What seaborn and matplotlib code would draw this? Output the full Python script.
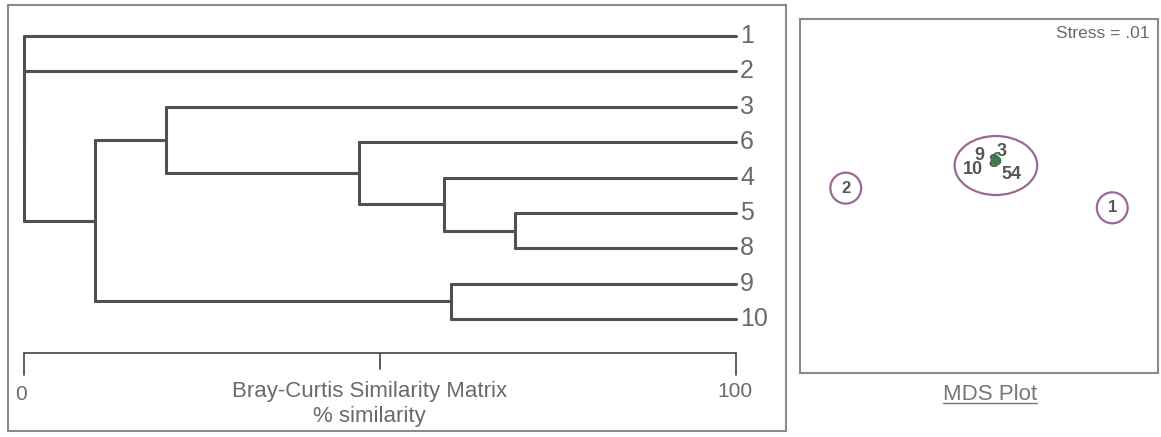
import numpy as np
import pandas as pd
import matplotlib
matplotlib.use('Agg')
import matplotlib.pyplot as plt
from matplotlib.patches import Ellipse
from matplotlib.lines import Line2D
import seaborn as sns

# 树状图数据 (Bray-Curtis 相似度 %)
leaf_order = ['1', '2', '3', '6', '4', '5', '8', '9', '10']
merge_left = ['5', '4', '6', '3', '9', 'B', '2', '1']
merge_right = ['8', 'F', 'E', 'D', '10', 'C', 'A', 'R2']
merge_sim = [69, 59, 47, 20, 60, 10, 0, 0]
merge_name = ['F', 'E', 'D', 'B', 'C', 'A', 'R2', 'R']
axis_ticks = [0, 50, 100]
axis_tick_labels = ['0', '', '100']

# MDS 坐标
mds_labels = ['1', '2', '3', '4', '5', '6', '8', '9', '10']
mds_x = [1.34, -1.34, 0.23, 0.37, 0.28, 0.17, 0.14, 0.0, -0.06]
mds_y = [-0.12, 0.08, 0.45, 0.22, 0.22, 0.36, 0.34, 0.41, 0.27]
circled = ['1', '2']
stress_text = 'Stress = .01'

W, H = 1161, 437
LINE = '#505050'
TEXT = '#6a6a6a'
FRAME = '#8a8a8a'
PURPLE = '#9a6a96'
GREEN = '#3f7a4f'

sns.set_style('white')
plt.rcParams['font.family'] = ['Liberation Sans', 'DejaVu Sans']

fig = plt.figure(figsize=(W / 100, H / 100), dpi=100)


def px_axes(x0, y0, x1, y1):
    return fig.add_axes([x0 / W, 1 - y1 / H, (x1 - x0) / W, (y1 - y0) / H])


# ---------- 左侧：树状图 ----------
ax = px_axes(8, 5, 786, 431)
R = 100 * 778 / 712
xmin = -16 * R / 778
ax.set_xlim(xmin, xmin + R)
step = 35.375
ax.set_ylim((431 - 36) / step, (5 - 36) / step)

pos = {name: (100.0, float(i)) for i, name in enumerate(leaf_order)}
rows = []
seg = 0
for a, b, s, n in zip(merge_left, merge_right, merge_sim, merge_name):
    xa, ya = pos[a]
    xb, yb = pos[b]
    for (x0, y0, x1, y1) in [(xa, ya, s, ya), (xb, yb, s, yb), (s, ya, s, yb)]:
        rows.append({'x': x0, 'y': y0, 'seg': seg})
        rows.append({'x': x1, 'y': y1, 'seg': seg})
        seg += 1
    pos[n] = (float(s), (ya + yb) / 2)
seg_df = pd.DataFrame(rows)
sns.lineplot(data=seg_df, x='x', y='y', units='seg', estimator=None, sort=False,
             color=LINE, lw=2.2, ax=ax, legend=False)
ax.set_xlabel('')
ax.set_ylabel('')

for i, name in enumerate(leaf_order):
    ax.text(100.55, i, name, ha='left', va='center', fontsize=18, color=TEXT)

# 相似度坐标轴
y_axis = (353 - 36) / step
ax.plot([0, 100], [y_axis, y_axis], color=LINE, lw=1.3)
for t, lab in zip(axis_ticks, axis_tick_labels):
    tick_len = 0.62 if lab else 0.45
    ax.plot([t, t], [y_axis, y_axis + tick_len], color=LINE, lw=1.3)
ax.text(-0.4, (395 - 36) / step, '0', ha='center', va='center', fontsize=15, color=TEXT)
ax.text(99.8, (391 - 36) / step, '100', ha='center', va='center', fontsize=15, color=TEXT)
ax.text(48.5, (391 - 36) / step, 'Bray-Curtis Similarity Matrix', ha='center',
        va='center', fontsize=16, color=TEXT)
ax.text(48.5, (416 - 36) / step, '% similarity', ha='center', va='center',
        fontsize=16, color=TEXT)

ax.set_xticks([])
ax.set_yticks([])
for sp in ax.spines.values():
    sp.set_color(FRAME)
    sp.set_linewidth(1.5)

# ---------- 右侧：MDS 图 ----------
ax2 = px_axes(800, 19, 1158, 373)
ax2.set_xlim(-1.8, 1.8)
ax2.set_ylim(-1.8, 1.8)

mds_df = pd.DataFrame({'x': mds_x, 'y': mds_y, 'label': mds_labels})
for _, r in mds_df.iterrows():
    fs = 12 if r['label'] in circled else 13
    col = GREEN if r['label'] == '6' else '#555555'
    ax2.text(r['x'], r['y'], r['label'], ha='center', va='center', fontsize=fs,
             fontweight='bold', color=col, zorder=4)
    if r['label'] in circled:
        ax2.add_patch(Ellipse((r['x'], r['y']), 0.31, 0.315, fill=False,
                              ec=PURPLE, lw=1.6))
green = mds_df[mds_df['label'] == '6']
sns.scatterplot(data=green, x='x', y='y', color=GREEN, s=55, edgecolor='none',
                ax=ax2, legend=False, zorder=5)
ax2.add_patch(Ellipse((0.17, 0.31), 0.83, 0.60, fill=False, ec=PURPLE, lw=1.6))
ax2.set_xlabel('')
ax2.set_ylabel('')
ax2.set_xticks([])
ax2.set_yticks([])
for sp in ax2.spines.values():
    sp.set_color(FRAME)
    sp.set_linewidth(1.5)
ax2.text(0.975, 0.96, stress_text, transform=ax2.transAxes, ha='right', va='center',
         fontsize=12.5, color=TEXT)

t = fig.text(990 / W, 1 - 395 / H, 'MDS Plot', ha='center', va='center',
             fontsize=16, color='#777777')
fig.canvas.draw()
bb = t.get_window_extent().transformed(fig.transFigure.inverted())
fig.add_artist(Line2D([bb.x0, bb.x1], [bb.y0 + 0.006, bb.y0 + 0.006],
                      color='#777777', lw=1, transform=fig.transFigure))

fig.savefig('out.png', dpi=100)
